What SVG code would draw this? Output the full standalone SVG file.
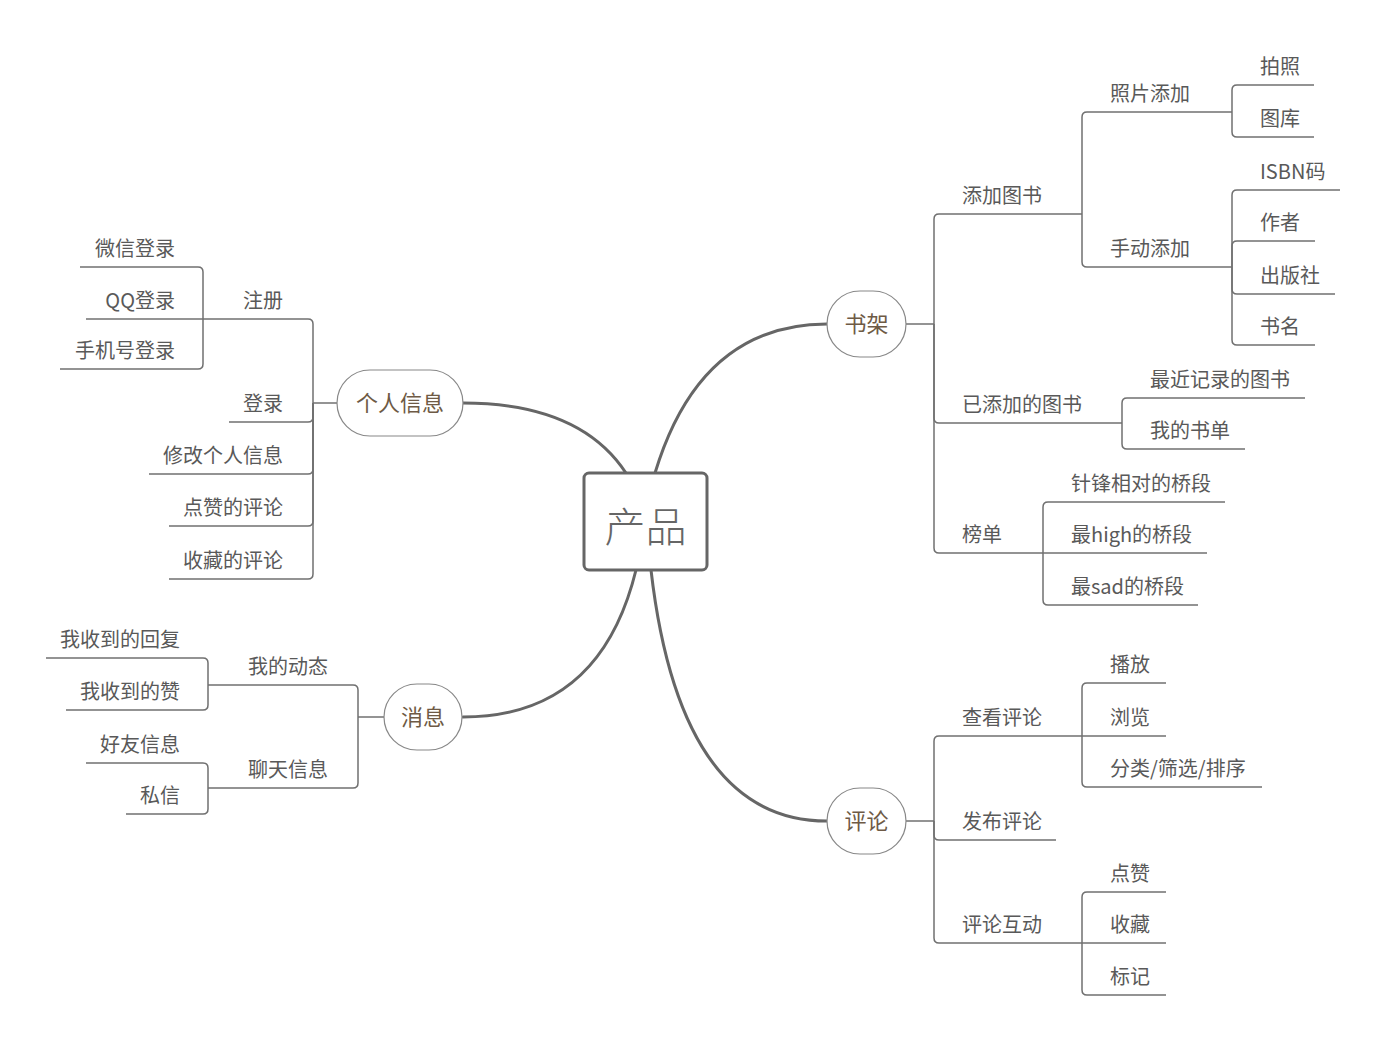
<svg xmlns="http://www.w3.org/2000/svg" width="1392" height="1047" viewBox="0 0 1392 1047">
<style>
.bg{fill:#ffffff}
.main{fill:none;stroke:#666666;stroke-width:3;stroke-linecap:round}
.br{fill:none;stroke:#707070;stroke-width:1.5}
.pill{fill:#ffffff;stroke:#888888;stroke-width:1.2}
.root{fill:#ffffff;stroke:#666666;stroke-width:3}
.t{font-family:"Noto Sans CJK SC","Noto Sans",sans-serif;font-size:20px;fill:#595959}
.e{text-anchor:end}
.n{font-family:"Noto Sans CJK SC","Noto Sans",sans-serif;font-size:22px;fill:#6e5a45;text-anchor:middle}
.rt{font-family:"Noto Sans CJK SC","Noto Sans",sans-serif;font-size:41px;font-weight:300;fill:#666666;text-anchor:middle}
</style>
<rect class="bg" x="0" y="0" width="1392" height="1047"/>
<g id="connectors">
<path class="main" d="M463,403 Q580,403 626,473"/>
<path class="main" d="M463,717 Q600,717 636,570"/>
<path class="main" d="M655,473 Q700,324 827,324"/>
<path class="main" d="M651,570 Q680,821 827,821"/>
<path class="br" d="M906,324 H934"/>
<path class="br" d="M934,324 V219 Q934,214 939,214 H1082"/>
<path class="br" d="M934,324 V418 Q934,423 939,423 H1122"/>
<path class="br" d="M934,324 V548 Q934,553 939,553 H1043"/>
<path class="br" d="M1082,214 V117 Q1082,112 1087,112 H1232"/>
<path class="br" d="M1082,214 V262 Q1082,267 1087,267 H1232"/>
<path class="br" d="M1232,112 V90 Q1232,85 1237,85 H1314"/>
<path class="br" d="M1232,112 V132 Q1232,137 1237,137 H1314"/>
<path class="br" d="M1232,267 V195 Q1232,190 1237,190 H1340"/>
<path class="br" d="M1232,267 V246 Q1232,241 1237,241 H1315"/>
<path class="br" d="M1232,267 V289 Q1232,294 1237,294 H1335"/>
<path class="br" d="M1232,267 V340 Q1232,345 1237,345 H1315"/>
<path class="br" d="M1122,423 V403 Q1122,398 1127,398 H1305"/>
<path class="br" d="M1122,423 V444 Q1122,449 1127,449 H1245"/>
<path class="br" d="M1043,553 V507 Q1043,502 1048,502 H1225"/>
<path class="br" d="M1043,553 H1207"/>
<path class="br" d="M1043,553 V600 Q1043,605 1048,605 H1198"/>
<path class="br" d="M906,821 H934"/>
<path class="br" d="M934,821 V741 Q934,736 939,736 H1082"/>
<path class="br" d="M934,821 V835 Q934,840 939,840 H1056"/>
<path class="br" d="M934,821 V938 Q934,943 939,943 H1082"/>
<path class="br" d="M1082,736 V688 Q1082,683 1087,683 H1166"/>
<path class="br" d="M1082,736 H1166"/>
<path class="br" d="M1082,736 V782 Q1082,787 1087,787 H1262"/>
<path class="br" d="M1082,943 V897 Q1082,892 1087,892 H1166"/>
<path class="br" d="M1082,943 H1166"/>
<path class="br" d="M1082,943 V990 Q1082,995 1087,995 H1166"/>
<path class="br" d="M337,403 H313"/>
<path class="br" d="M313,403 V324 Q313,319 308,319 H203"/>
<path class="br" d="M313,403 V417 Q313,422 308,422 H229"/>
<path class="br" d="M313,403 V469 Q313,474 308,474 H149"/>
<path class="br" d="M313,403 V521 Q313,526 308,526 H169"/>
<path class="br" d="M313,403 V574 Q313,579 308,579 H169"/>
<path class="br" d="M203,319 V272 Q203,267 198,267 H80"/>
<path class="br" d="M203,319 H86"/>
<path class="br" d="M203,319 V364 Q203,369 198,369 H60"/>
<path class="br" d="M384,717 H358"/>
<path class="br" d="M358,717 V690 Q358,685 353,685 H208"/>
<path class="br" d="M358,717 V783 Q358,788 353,788 H208"/>
<path class="br" d="M208,685 V663 Q208,658 203,658 H46"/>
<path class="br" d="M208,685 V705 Q208,710 203,710 H66"/>
<path class="br" d="M208,788 V768 Q208,763 203,763 H86"/>
<path class="br" d="M208,788 V809 Q208,814 203,814 H126"/>
</g>
<g id="node-root"><rect class="root" x="584" y="473" width="123" height="97" rx="5"/><text class="rt" x="645.5" y="542">产品</text></g>
<g id="node-geren"><rect class="pill" x="337" y="370" width="126" height="66" rx="33"/><text class="n" x="400" y="411">个人信息</text></g>
<g id="node-xiaoxi"><rect class="pill" x="384" y="684" width="78" height="66" rx="33"/><text class="n" x="423" y="725">消息</text></g>
<g id="node-shujia"><rect class="pill" x="827" y="291" width="79" height="66" rx="33"/><text class="n" x="866.5" y="332">书架</text></g>
<g id="node-pinglun"><rect class="pill" x="827" y="788" width="79" height="66" rx="33"/><text class="n" x="866.5" y="829">评论</text></g>
<g id="node-tianjia"><text class="t" x="962" y="203">添加图书</text></g>
<g id="node-yitianjia"><text class="t" x="962" y="412">已添加的图书</text></g>
<g id="node-bangdan"><text class="t" x="962" y="542">榜单</text></g>
<g id="node-zhaopian"><text class="t" x="1110" y="101">照片添加</text></g>
<g id="node-shoudong"><text class="t" x="1110" y="256">手动添加</text></g>
<g id="node-paizhao"><text class="t" x="1260" y="74">拍照</text></g>
<g id="node-tuku"><text class="t" x="1260" y="126">图库</text></g>
<g id="node-isbn"><text class="t" x="1260" y="179">ISBN码</text></g>
<g id="node-zuozhe"><text class="t" x="1260" y="230">作者</text></g>
<g id="node-chubanshe"><text class="t" x="1260" y="283">出版社</text></g>
<g id="node-shuming"><text class="t" x="1260" y="334">书名</text></g>
<g id="node-zuijin"><text class="t" x="1150" y="387">最近记录的图书</text></g>
<g id="node-shudan"><text class="t" x="1150" y="438">我的书单</text></g>
<g id="node-zhenfeng"><text class="t" x="1071" y="491">针锋相对的桥段</text></g>
<g id="node-high"><text class="t" x="1071" y="542">最high的桥段</text></g>
<g id="node-sad"><text class="t" x="1071" y="594">最sad的桥段</text></g>
<g id="node-chakan"><text class="t" x="962" y="725">查看评论</text></g>
<g id="node-fabu"><text class="t" x="962" y="829">发布评论</text></g>
<g id="node-hudong"><text class="t" x="962" y="932">评论互动</text></g>
<g id="node-bofang"><text class="t" x="1110" y="672">播放</text></g>
<g id="node-liulan"><text class="t" x="1110" y="725">浏览</text></g>
<g id="node-fenlei"><text class="t" x="1110" y="776">分类/筛选/排序</text></g>
<g id="node-dianzan"><text class="t" x="1110" y="881">点赞</text></g>
<g id="node-shoucang"><text class="t" x="1110" y="932">收藏</text></g>
<g id="node-biaoji"><text class="t" x="1110" y="984">标记</text></g>
<g id="node-zhuce"><text class="t e" x="283" y="308">注册</text></g>
<g id="node-denglu"><text class="t e" x="283" y="411">登录</text></g>
<g id="node-xiugai"><text class="t e" x="283" y="463">修改个人信息</text></g>
<g id="node-dianzanpl"><text class="t e" x="283" y="515">点赞的评论</text></g>
<g id="node-shoucangpl"><text class="t e" x="283" y="568">收藏的评论</text></g>
<g id="node-weixin"><text class="t e" x="175" y="256">微信登录</text></g>
<g id="node-qq"><text class="t e" x="175" y="308">QQ登录</text></g>
<g id="node-shouji"><text class="t e" x="175" y="358">手机号登录</text></g>
<g id="node-dongtai"><text class="t e" x="328" y="674">我的动态</text></g>
<g id="node-liaotian"><text class="t e" x="328" y="777">聊天信息</text></g>
<g id="node-huifu"><text class="t e" x="180" y="647">我收到的回复</text></g>
<g id="node-zan"><text class="t e" x="180" y="699">我收到的赞</text></g>
<g id="node-haoyou"><text class="t e" x="180" y="752">好友信息</text></g>
<g id="node-sixin"><text class="t e" x="180" y="803">私信</text></g>
</svg>
